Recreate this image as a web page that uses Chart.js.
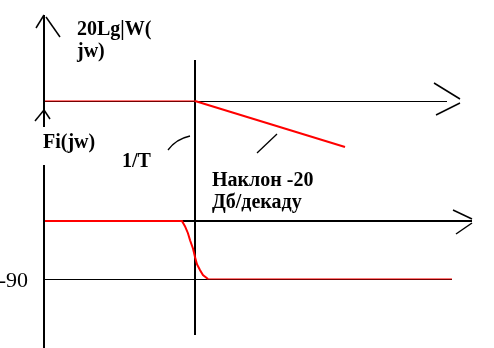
<!DOCTYPE html>
<html>
<head>
<meta charset="utf-8">
<script src="https://cdn.jsdelivr.net/npm/chart.js@4"></script>
<style>
  html, body { margin: 0; padding: 0; background: #fff; }
  canvas { display: block; }
</style>
</head>
<body>
<canvas id="bode" width="494" height="348"></canvas>
<script>
// x is log10(w*T), so 0 is the corner frequency 1/T
var magX = [-1, 0, 1];
var magDb = [0, 0, -20];
var phaseX = [-1, -0.087, -0.067, -0.047, -0.033, -0.013, 0, 0.013, 0.033, 0.053, 0.087, 1.713];
var phaseDeg = [0, 0, -8, -19, -30, -43, -56, -67, -76, -84, -90, -90];
var phaseTicks = [0, -90];

function pts(xs, ys) {
    return xs.map(function (x, i) { return { x: x, y: ys[i] }; });
}

var serif = '"Liberation Serif", "DejaVu Serif", serif';

// hand drawn axes, arrows, notes
var sketch = {
    id: 'sketch',
    beforeDatasetsDraw: function (chart) {
        var c = chart.ctx, s = chart.scales;
        var X = function (v) { return Math.round(s.x.getPixelForValue(v)); };
        var M = function (v) { return Math.round(s.mag.getPixelForValue(v)); };
        var P = function (v) { return Math.round(s.ph.getPixelForValue(v)); };
        function line(x1, y1, x2, y2, w) {
            c.beginPath();
            c.lineWidth = w;
            c.moveTo(x1, y1);
            c.lineTo(x2, y2);
            c.stroke();
        }
        c.save();
        c.strokeStyle = '#000';
        c.lineCap = 'butt';

        // left axis, upper part (magnitude) and lower part (phase)
        var lx = X(-1) - 1;
        line(lx, M(37.4), lx, M(-11.3), 2);
        line(lx, P(87), lx, chart.height, 2);
        // arrows on the left axis
        line(lx - 8, M(37.4) + 13, lx, M(37.4), 1.5);
        line(lx + 2, M(37.4) + 2, lx + 16, M(37.4) + 22, 1.5);
        line(lx - 9, M(-4) + 11, lx, M(-4), 1.5);
        line(lx + 6, M(-4) + 9, lx, M(-4), 1.5);

        // magnitude axis
        line(lx, M(0) + 0.5, X(1.68), M(0) + 0.5, 1);
        var ax = X(1.68);
        line(ax - 13, M(0) - 18, ax + 13, M(0) - 2, 1.5);
        line(ax - 11, M(0) + 14, ax + 13, M(0) + 2, 1.5);

        // phase axis
        line(lx, P(0), X(1.847), P(0), 2);
        var bx = X(1.847);
        line(bx - 19, P(0) - 11, bx, P(0) - 2, 1.5);
        line(bx, P(0) + 2, bx - 16, P(0) + 13, 1.5);

        // -90 level
        line(lx, P(phaseTicks[1]) + 0.5, X(1.713), P(phaseTicks[1]) + 0.5, 1);

        // corner frequency line
        line(X(0), M(17.8), X(0), M(-101.7), 2);

        // small pointer strokes
        c.lineWidth = 1.3;
        c.beginPath();
        c.moveTo(168, 150);
        c.quadraticCurveTo(176, 139, 190, 136);
        c.stroke();
        line(257, 153, 277, 134, 1.3);

        // labels
        c.fillStyle = '#000';
        c.textBaseline = 'alphabetic';
        c.textAlign = 'left';
        c.font = 'bold 20px ' + serif;
        c.fillText('20Lg|W(', 77, 35);
        c.fillText('jw)', 77, 57);
        c.fillText('Fi(jw)', 43, 148);
        c.fillText('1/T', 122, 167);
        c.fillText('Наклон -20', 212, 186);
        c.fillText('Дб/декаду', 212, 208);
        c.font = '22px ' + serif;
        c.textAlign = 'right';
        c.fillText(String(phaseTicks[1]), 28, P(phaseTicks[1]) + 8);
        c.restore();
    }
};

new Chart(document.getElementById('bode'), {
    type: 'scatter',
    data: {
        datasets: [{
            label: '20Lg|W(jw)|',
            data: pts(magX, magDb),
            yAxisID: 'mag',
            showLine: true,
            borderColor: '#ff0000',
            pointRadius: 0,
            segment: {
                borderWidth: function (ctx) { return ctx.p0DataIndex === 0 ? 1 : 2; }
            }
        }, {
            label: 'Fi(jw)',
            data: pts(phaseX, phaseDeg),
            yAxisID: 'ph',
            showLine: true,
            borderColor: '#ff0000',
            pointRadius: 0,
            segment: {
                borderWidth: function (ctx) {
                    return ctx.p0DataIndex === phaseX.length - 2 ? 1 : 2;
                }
            }
        }]
    },
    options: {
        responsive: false,
        animation: false,
        layout: { padding: 0 },
        plugins: {
            legend: { display: false },
            tooltip: { enabled: false }
        },
        scales: {
            x: { type: 'linear', display: false, min: -1.3, max: 1.9933 },
            mag: { type: 'linear', display: false, min: -107.4, max: 43.9 },
            ph: { type: 'linear', display: false, min: -197.1, max: 342.9 }
        }
    },
    plugins: [sketch]
});
</script>
</body>
</html>
